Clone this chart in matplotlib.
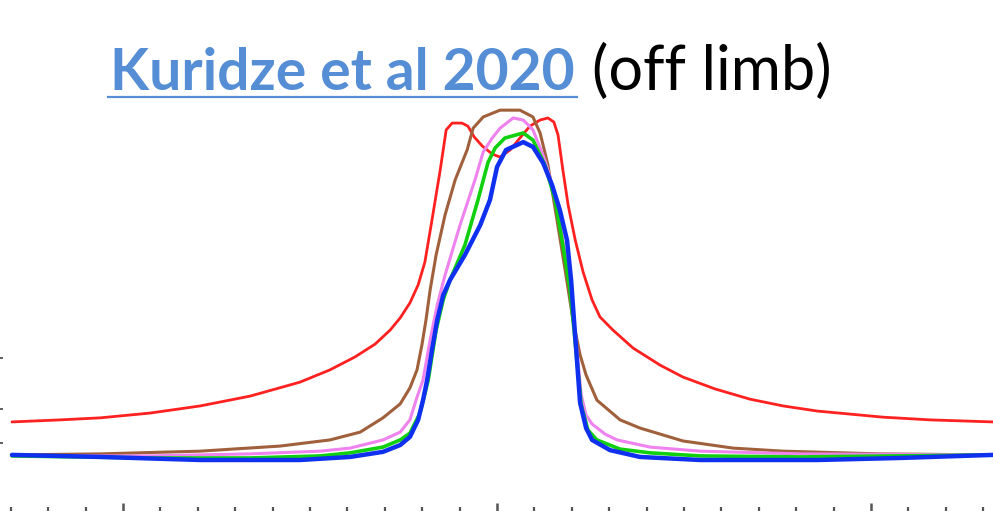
import numpy as np
import matplotlib
matplotlib.use("Agg")
import matplotlib.pyplot as plt
from matplotlib.lines import Line2D

# Ca II 8542 off-limb profiles, wavelength offset from line centre (A) vs intensity
x_red = [-1.297, -1.168, -1.061, -0.928, -0.794, -0.660, -0.527, -0.447, -0.380, -0.326,
         -0.286, -0.259, -0.233, -0.211, -0.193, -0.174, -0.152, -0.136, -0.120, -0.094,
         -0.078, -0.061, -0.040, -0.013, 0.008, 0.035, 0.061, 0.088, 0.115, 0.136,
         0.152, 0.163, 0.176, 0.190, 0.209, 0.230, 0.254, 0.275, 0.310, 0.364,
         0.436, 0.497, 0.583, 0.676, 0.765, 0.856, 0.944, 1.032, 1.158, 1.326]
y_red = [0.112, 0.118, 0.124, 0.138, 0.159, 0.188, 0.229, 0.265, 0.303, 0.341,
         0.382, 0.418, 0.462, 0.515, 0.582, 0.706, 0.853, 0.971, 0.991, 0.991,
         0.982, 0.950, 0.924, 0.900, 0.891, 0.912, 0.947, 0.982, 1.000, 1.006,
         0.994, 0.956, 0.853, 0.750, 0.647, 0.553, 0.471, 0.421, 0.382, 0.329,
         0.279, 0.244, 0.209, 0.179, 0.159, 0.144, 0.135, 0.126, 0.118, 0.112]

x_brown = [-1.297, -1.061, -0.794, -0.580, -0.447, -0.366, -0.305, -0.259, -0.233, -0.214,
           -0.201, -0.190, -0.179, -0.163, -0.139, -0.112, -0.080, -0.064, -0.037, 0.008,
           0.061, 0.096, 0.115, 0.136, 0.158, 0.182, 0.203, 0.222, 0.238, 0.267,
           0.329, 0.382, 0.497, 0.631, 0.765, 1.024, 1.326]
y_brown = [0.015, 0.018, 0.026, 0.041, 0.059, 0.082, 0.124, 0.165, 0.212, 0.265,
           0.338, 0.412, 0.500, 0.603, 0.721, 0.824, 0.912, 0.976, 1.009, 1.029,
           1.029, 1.009, 0.962, 0.868, 0.721, 0.559, 0.412, 0.309, 0.250, 0.176,
           0.118, 0.094, 0.056, 0.035, 0.026, 0.018, 0.015]

x_violet = [-1.297, -0.928, -0.660, -0.473, -0.393, -0.305, -0.259, -0.233, -0.214, -0.198,
            -0.179, -0.160, -0.139, -0.099, -0.059, -0.037, -0.013, 0.008, 0.043, 0.070,
            0.096, 0.128, 0.155, 0.176, 0.195, 0.211, 0.225, 0.238, 0.254, 0.289,
            0.321, 0.409, 0.543, 0.810, 1.326]
y_violet = [0.012, 0.012, 0.018, 0.026, 0.035, 0.059, 0.082, 0.118, 0.185, 0.235,
            0.353, 0.456, 0.544, 0.691, 0.824, 0.906, 0.947, 0.976, 1.006, 1.000,
            0.971, 0.882, 0.779, 0.647, 0.515, 0.353, 0.191, 0.132, 0.106, 0.076,
            0.059, 0.038, 0.026, 0.018, 0.015]

x_green = [-1.297, -0.928, -0.660, -0.473, -0.393, -0.305, -0.259, -0.233, -0.206, -0.184,
           -0.163, -0.144, -0.126, -0.086, -0.051, -0.024, -0.005, 0.021, 0.070, 0.096,
           0.128, 0.155, 0.176, 0.195, 0.211, 0.225, 0.243, 0.267, 0.329, 0.409,
           0.543, 0.810, 1.326]
y_green = [0.012, 0.006, 0.006, 0.012, 0.021, 0.038, 0.059, 0.079, 0.138, 0.235,
           0.382, 0.471, 0.529, 0.632, 0.765, 0.876, 0.918, 0.947, 0.962, 0.941,
           0.868, 0.765, 0.632, 0.500, 0.324, 0.162, 0.088, 0.059, 0.032, 0.021,
           0.012, 0.009, 0.015]

x_blue = [-1.297, -1.061, -0.794, -0.527, -0.393, -0.305, -0.259, -0.233, -0.211, -0.198,
          -0.187, -0.174, -0.160, -0.144, -0.126, -0.086, -0.045, -0.019, 0.000, 0.024,
          0.070, 0.096, 0.123, 0.147, 0.168, 0.187, 0.198, 0.209, 0.222, 0.238,
          0.254, 0.302, 0.382, 0.543, 0.856, 1.078, 1.326]
y_blue = [0.015, 0.009, 0.000, 0.000, 0.009, 0.024, 0.044, 0.068, 0.118, 0.176,
          0.235, 0.324, 0.412, 0.485, 0.529, 0.603, 0.691, 0.765, 0.862, 0.912,
          0.935, 0.921, 0.874, 0.809, 0.735, 0.647, 0.529, 0.362, 0.168, 0.094,
          0.059, 0.029, 0.009, 0.000, 0.000, 0.006, 0.015]

major_ticks = [-1.0, 0.0, 1.0]
minor_ticks = np.round(np.arange(-1.3, 1.31, 0.1), 2)
y_ticks = [0.05, 0.15, 0.30]

fig = plt.figure(figsize=(9.93, 5.11), dpi=100)
ax = fig.add_axes([0, 0, 1, 1])

style = dict(solid_joinstyle="round", solid_capstyle="round")
ax.plot(x_red, y_red, color="#ff2020", lw=2.0, **style)
ax.plot(x_brown, y_brown, color="#a0603c", lw=2.2, **style)
ax.plot(x_violet, y_violet, color="#ee82ee", lw=2.2, **style)
ax.plot(x_green, y_green, color="#10d010", lw=2.6, **style)
ax.plot(x_blue, y_blue, color="#1030f0", lw=3.2, **style)

ax.set_xlim(-1.329, 1.326)
ax.set_ylim(-0.15, 1.353)
for s in ax.spines.values():
    s.set_visible(False)

ax.set_xticks(major_ticks)
ax.set_xticks(minor_ticks, minor=True)
ax.set_yticks(y_ticks)
ax.tick_params(axis="x", which="major", direction="in", length=6, width=1.8,
               color="#555555", labelbottom=False)
ax.tick_params(axis="x", which="minor", direction="in", length=3, width=1.6,
               color="#555555")
ax.tick_params(axis="y", which="major", direction="in", length=2.5, width=1.2,
               color="#444444", labelleft=False)

# title: linked reference in blue, note in black
link_blue = "#558ed5"
base_y = 1 - 90 / 511
t1 = fig.text(110 / 993, base_y, "Kuridze et al 2020", fontsize=41,
              family="Lato", weight="bold", color=link_blue, va="baseline")
fig.canvas.draw()
bb = t1.get_window_extent().transformed(fig.transFigure.inverted())

t2 = fig.text(bb.x1 + 17 / 993, base_y, "(off limb)", fontsize=44,
              family="Lato", color="black", va="baseline")

uy = 1 - 97 / 511
fig.add_artist(Line2D([bb.x0 - 0.002, bb.x1 + 0.002], [uy, uy], color=link_blue,
                      lw=1.6, transform=fig.transFigure))

fig.savefig("out.png", dpi=100)
